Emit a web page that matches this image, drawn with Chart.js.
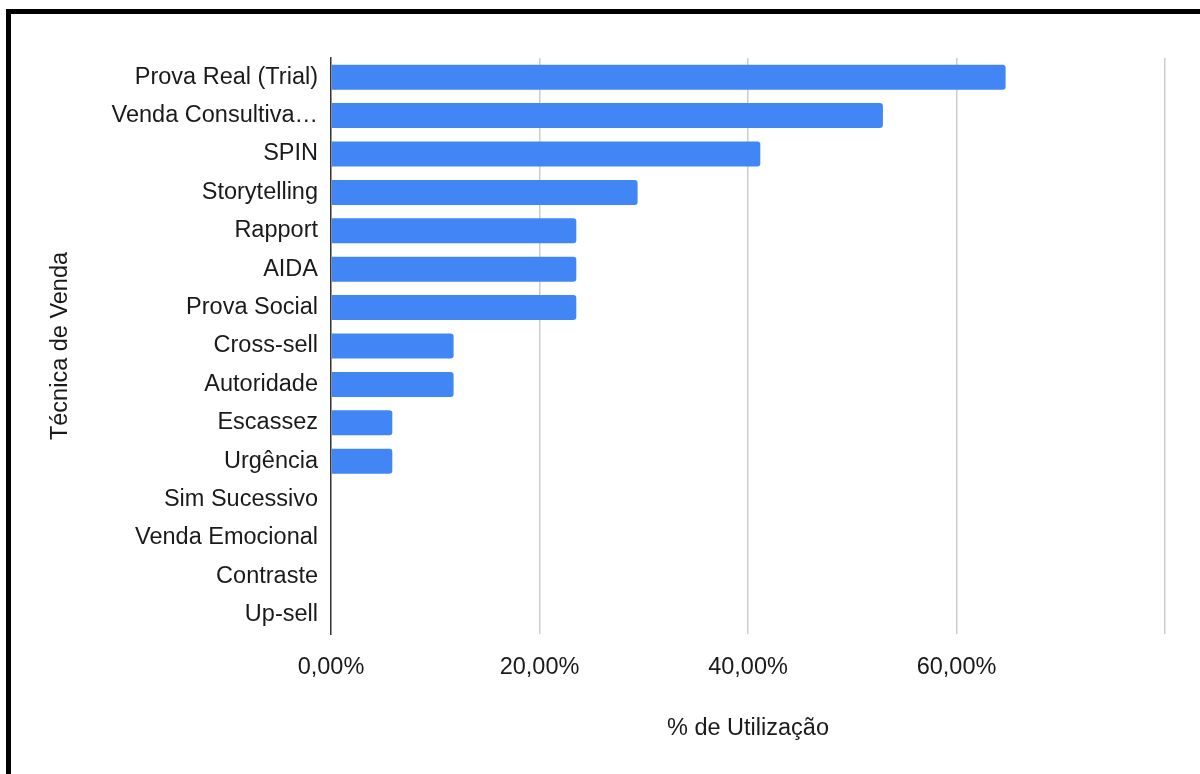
<!DOCTYPE html>
<html lang="pt-BR">
<head>
<meta charset="utf-8">
<title>Técnica de Venda</title>
<script src="https://cdn.jsdelivr.net/npm/chart.js@4/dist/chart.umd.min.js"></script>
<style>
    html, body { margin: 0; padding: 0; background: #fff; }
    #wrap { position: relative; width: 1200px; height: 774px; overflow: hidden; }
    #chart { position: absolute; left: 0; top: 0; }
    .frame { position: absolute; background: #000; }
    .frame.top { left: 6px; top: 9px; width: 1194px; height: 5px; }
    .frame.left { left: 6px; top: 9px; width: 5px; height: 765px; }
</style>
</head>
<body>
<div id="wrap">
    <canvas id="chart" width="1200" height="774"></canvas>
    <div class="frame top"></div>
    <div class="frame left"></div>
</div>
<script>
// 類別與數值
const techniques = [
    'Prova Real (Trial)', 'Venda Consultiva…', 'SPIN', 'Storytelling', 'Rapport',
    'AIDA', 'Prova Social', 'Cross-sell', 'Autoridade', 'Escassez',
    'Urgência', 'Sim Sucessivo', 'Venda Emocional', 'Contraste', 'Up-sell'
];
const usagePct = [64.71, 52.94, 41.18, 29.41, 23.53, 23.53, 23.53, 11.76, 11.76, 5.88, 5.88, 0, 0, 0, 0];
const xTicks = [0, 20, 40, 60, 80];
const xTickLabels = ['0,00%', '20,00%', '40,00%', '60,00%', ''];

const fontFamily = '"Liberation Sans", Arial, Helvetica, sans-serif';
const fontSize = 23.5;
const textColor = '#1a1a1a';

new Chart(document.getElementById('chart').getContext('2d'), {
    type: 'bar',
    data: {
        labels: techniques,
        datasets: [{
            data: usagePct,
            backgroundColor: '#4285f4',
            borderWidth: 0,
            borderRadius: { topRight: 3, bottomRight: 3 },
            borderSkipped: false,
            categoryPercentage: 1,
            barPercentage: 0.65
        }]
    },
    options: {
        indexAxis: 'y',
        responsive: false,
        animation: false,
        layout: { padding: { left: 40, right: 35, top: 58, bottom: 0 } },
        plugins: { legend: { display: false }, tooltip: { enabled: false } },
        scales: {
            x: {
                type: 'linear',
                min: 0,
                max: 80,
                afterBuildTicks: scale => {
                    scale.ticks = xTicks.map(v => ({ value: v }));
                },
                afterFit: scale => { scale.height = 140; },
                ticks: {
                    padding: 19,
                    color: textColor,
                    font: { family: fontFamily, size: fontSize },
                    callback: (value, i) => xTickLabels[i]
                },
                grid: {
                    drawTicks: false,
                    color: ctx => ctx.tick && ctx.tick.value === 0 ? 'rgba(0,0,0,0)' : '#cccccc',
                    lineWidth: 1.5
                },
                border: { display: false },
                title: {
                    display: true,
                    text: '% de Utilização',
                    color: textColor,
                    font: { family: fontFamily, size: fontSize },
                    padding: { top: 0, bottom: 31 }
                }
            },
            y: {
                afterFit: scale => { scale.width = 291; },
                ticks: {
                    padding: 13,
                    color: textColor,
                    font: { family: fontFamily, size: fontSize }
                },
                grid: { display: false, drawTicks: false },
                border: { display: true, color: '#333', width: 1.5 },
                title: {
                    display: true,
                    text: 'Técnica de Venda',
                    color: textColor,
                    font: { family: fontFamily, size: fontSize },
                    padding: { top: 6, bottom: 0 }
                }
            }
        }
    }
});
</script>
</body>
</html>
